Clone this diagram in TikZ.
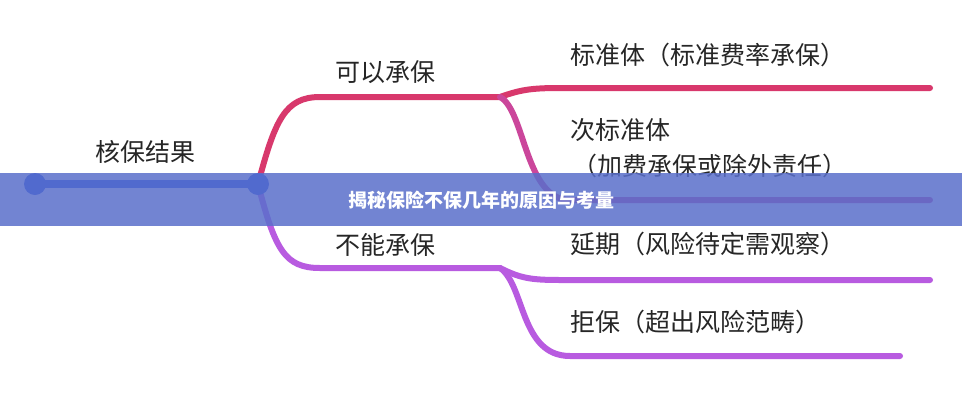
\documentclass[tikz,border=0pt]{standalone}
\usepackage{fontspec}
\setmainfont{Noto Sans CJK SC}
\begin{document}
\begin{tikzpicture}[x=1pt,y=-1pt,
  lab/.style={font=\fontsize{25}{29}\selectfont,text=black!85,inner sep=0pt},
  br/.style={line width=6pt,line cap=round}]
\definecolor{pk}{HTML}{D8386C}
\definecolor{pu}{HTML}{B85BE0}
\definecolor{bl}{HTML}{1F4FE0}
\definecolor{band}{HTML}{5A6FCB}
\useasboundingbox (0,0) rectangle (962,400);
\fill[white] (0,0) rectangle (962,400);
\coordinate (r0) at (35,184);
\coordinate (r1) at (258,184);
\coordinate (u1) at (500,97);
\coordinate (d1) at (500,268);
\coordinate (a) at (930,88);
\coordinate (b) at (930,200);
\coordinate (c) at (930,280);
\coordinate (e) at (900,356);
\draw[bl,line width=8pt] (r0) -- (r1);
\fill[bl] (r0) circle (11);
\draw[pk,br] (r1) .. controls (275,120) and (285,97) .. (320,97) -- (u1);
\draw[pu,br] (r1) .. controls (275,250) and (285,268) .. (320,268) -- (d1);
\fill[bl] (r1) circle (11);
\draw[pk,br] (u1) .. controls (520,90) and (530,88) .. (560,88) -- (a);
\draw[pk!60!pu,br] (u1) .. controls (525,110) and (525,200) .. (570,200) -- (b);
\draw[pu,br] (d1) .. controls (520,278) and (530,280) .. (560,280) -- (c);
\draw[pu,br] (d1) .. controls (525,285) and (520,356) .. (570,356) -- (e);
\node[lab] (n0) at (145,152) {核保结果};
\node[lab] (n1) at (385,72) {可以承保};
\node[lab] (n2) at (385,245) {不能承保};
\node[lab,anchor=west] (n3) at (570,55) {标准体（标准费率承保）};
\node[lab,anchor=west] (n4) at (570,130) {次标准体};
\node[lab,anchor=west] (n5) at (572,166) {（加费承保或除外责任）};
\node[lab,anchor=west] (n6) at (570,244) {延期（风险待定需观察）};
\node[lab,anchor=west] (n7) at (570,322) {拒保（超出风险范畴）};
\fill[band,fill opacity=0.85] (0,173) rectangle (962,226);
\node[font=\bfseries\fontsize{19}{23}\selectfont,text=white] (t) at (481,200) {揭秘保险不保几年的原因与考量};
\end{tikzpicture}
\end{document}
